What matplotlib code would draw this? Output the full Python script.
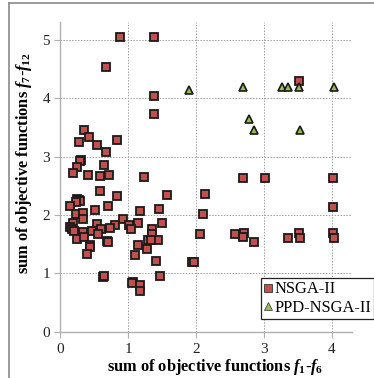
import matplotlib
matplotlib.use("Agg")
import matplotlib.pyplot as plt
from matplotlib.lines import Line2D

plt.rcParams['font.family'] = ['Liberation Serif', 'DejaVu Serif']
plt.rcParams['mathtext.fontset'] = 'custom'
plt.rcParams['mathtext.rm'] = 'Liberation Serif:bold'
plt.rcParams['mathtext.it'] = 'Liberation Serif:italic:bold'
plt.rcParams['mathtext.bf'] = 'Liberation Serif:bold'

nsga_x = [0.88, 1.38, 0.67, 1.38, 1.38, 3.52, 0.35, 0.43, 0.28, 0.54, 0.84, 0.68,
          0.30, 0.29, 0.25, 0.65, 0.19, 0.41, 0.58, 0.72, 1.24, 0.58, 0.83, 1.58,
          2.14, 0.24, 0.27, 0.29, 0.23, 0.15, 0.70, 0.51, 1.18, 1.46, 0.23, 0.33,
          0.33, 2.11, 0.93, 1.50, 1.15, 0.19, 0.15, 0.17, 0.20, 0.54, 0.81, 1.02,
          1.04, 0.73, 0.60, 0.47, 0.33, 1.35, 1.35, 2.06, 0.56, 0.24, 0.35, 0.69,
          0.70, 1.29, 1.44, 1.33, 1.14, 0.44, 0.44, 1.28, 0.39, 1.10, 1.41, 1.94,
          1.97, 1.47, 0.63, 0.64, 1.07, 1.06, 1.17, 1.18, 2.69, 3.02, 4.02, 4.02,
          2.57, 2.71, 2.69, 2.85, 3.35, 3.52, 3.53, 4.02, 4.03]
nsga_y = [5.05, 5.05, 4.53, 4.04, 3.74, 4.29, 3.46, 3.34, 3.26, 3.20, 3.28, 3.08,
          2.95, 2.92, 2.83, 2.86, 2.72, 2.68, 2.67, 2.69, 2.66, 2.42, 2.32, 2.35,
          2.36, 2.27, 2.25, 2.24, 2.22, 2.16, 2.16, 2.09, 2.07, 2.10, 2.01, 2.04,
          1.94, 2.02, 1.93, 1.87, 1.86, 1.86, 1.80, 1.76, 1.73, 1.84, 1.83, 1.83,
          1.76, 1.78, 1.76, 1.73, 1.71, 1.76, 1.68, 1.68, 1.68, 1.59, 1.62, 1.56,
          1.54, 1.57, 1.57, 1.57, 1.49, 1.49, 1.45, 1.41, 1.34, 1.32, 1.21, 1.19,
          1.20, 0.96, 0.94, 0.95, 0.85, 0.83, 0.80, 0.70, 2.63, 2.63, 2.63, 2.13,
          1.68, 1.69, 1.62, 1.54, 1.60, 1.69, 1.60, 1.69, 1.60]

ppd_x = [1.89, 2.69, 3.27, 3.36, 3.52, 4.03, 2.78, 2.86, 3.53]
ppd_y = [4.14, 4.19, 4.19, 4.19, 4.19, 4.19, 3.64, 3.45, 3.45]

xticks = [0, 1, 2, 3, 4]
yticks = [0, 1, 2, 3, 4, 5]
xlabel = r"sum of objective functions $f_1$-$f_6$"
ylabel = r"sum of objective functions $f_7$-$f_{12}$"
legend_labels = ["NSGA-II", "PPD-NSGA-II"]

W, H = 374, 378
fig = plt.figure(figsize=(W / 100, H / 100), dpi=100)
ax = fig.add_axes([60.3 / W, 1 - 331.7 / H, (352 - 60.3) / W, (331.7 - 22) / H])

red = '#C0504D'
green = '#9BBB59'
ax.plot(nsga_x, nsga_y, linestyle='none', marker='s', markersize=6.2,
        markerfacecolor=red, markeredgecolor='#1a1a1a', markeredgewidth=1.3, zorder=3)
ax.plot(ppd_x, ppd_y, linestyle='none', marker='^', markersize=5.5,
        markerfacecolor=green, markeredgecolor='#1a1a1a', markeredgewidth=1.2, zorder=4)

ax.set_xlim(0, 4.3)
ax.set_ylim(0, 5.31)
ax.set_xticks(xticks)
ax.set_yticks(yticks)
ax.grid(True, color='#a0a0a0', linestyle=(0, (1.5, 1.5)), linewidth=0.7)
ax.set_axisbelow(True)
for s in ['top', 'right']:
    ax.spines[s].set_visible(False)
for s in ['left', 'bottom']:
    ax.spines[s].set_color('#b0b0b0')
    ax.spines[s].set_linewidth(1.0)
ax.tick_params(axis='both', direction='out', length=4, color='#b0b0b0',
               labelsize=11, labelcolor='#222222')
ax.tick_params(axis='y', pad=3.5)
ax.tick_params(axis='x', pad=4)

ax.set_xlabel(xlabel, fontsize=11.8, fontweight='bold')
ax.set_ylabel(ylabel, fontsize=11.8, fontweight='bold')
ax.xaxis.set_label_coords(0.532, -0.083)
ax.yaxis.set_label_coords(-0.09, 0.545)

handles = [
    Line2D([], [], linestyle='none', marker='s', markersize=5.2, markerfacecolor=red,
           markeredgecolor='#333333', markeredgewidth=0.6),
    Line2D([], [], linestyle='none', marker='^', markersize=5.2, markerfacecolor=green,
           markeredgecolor='#333333', markeredgewidth=0.5),
]
leg = fig.legend(handles, legend_labels, loc='upper left',
                 bbox_to_anchor=(261 / W, 1 - 278 / H), fontsize=11.9,
                 handlelength=0.5, handletextpad=0.1, borderpad=0.2,
                 labelspacing=0.15, borderaxespad=0, fancybox=False, framealpha=1)
leg.get_frame().set_edgecolor('#222222')
leg.get_frame().set_linewidth(0.9)

# outer chart-area border (cropped on right and bottom)
fig.add_artist(Line2D([9 / W, 1.0], [1 - 3 / H, 1 - 3 / H], color='#8a8a8a', linewidth=1.2))
fig.add_artist(Line2D([9 / W, 9 / W], [0.0, 1 - 3 / H], color='#8a8a8a', linewidth=1.2))

fig.savefig('out.png', dpi=100)
